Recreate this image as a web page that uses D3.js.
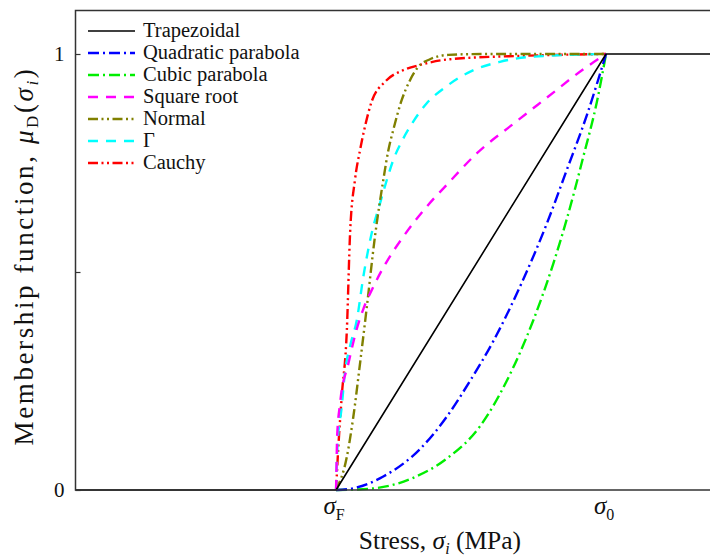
<!DOCTYPE html>
<html>
<head>
<meta charset="utf-8">
<script src="https://cdn.jsdelivr.net/npm/d3@7"></script>
<style>
  html, body { margin: 0; padding: 0; background: #fff; }
  svg { display: block; }
</style>
</head>
<body>
<svg id="chart" width="710" height="558"></svg>
<script>
// Normalised stress t = (σ - σF) / (σ0 - σF); membership value μD in [0, 1]
const seriesNames = ["Trapezoidal", "Quadratic parabola", "Cubic parabola", "Square root", "Normal", "Γ", "Cauchy"];

const trapezoidal = [[-0.965, 0], [0, 0], [1, 1], [1.39, 1]];
const quadratic = [[0, 0], [0.064, 0.004], [0.175, 0.031], [0.311, 0.094], [0.41, 0.168], [0.496, 0.25],
  [0.583, 0.342], [0.681, 0.466], [0.78, 0.61], [0.854, 0.733], [0.929, 0.86], [1, 1]];
const cubic = [[0, 0], [0.126, 0.003], [0.286, 0.028], [0.41, 0.072], [0.533, 0.146], [0.632, 0.25],
  [0.731, 0.39], [0.805, 0.52], [0.854, 0.62], [0.916, 0.765], [0.966, 0.89], [1, 1]];
const squareRoot = [[0, 0], [0.002, 0.062], [0.004, 0.122], [0.015, 0.199], [0.046, 0.291], [0.077, 0.37],
  [0.101, 0.415], [0.138, 0.466], [0.188, 0.524], [0.249, 0.581], [0.336, 0.65], [0.41, 0.7],
  [0.521, 0.772], [0.657, 0.84], [0.781, 0.9], [0.916, 0.965], [1, 1]];
const normal = [[0, 0], [0.04, 0.076], [0.064, 0.168], [0.089, 0.291], [0.114, 0.42], [0.144, 0.581],
  [0.175, 0.711], [0.194, 0.78], [0.212, 0.826], [0.243, 0.894], [0.274, 0.94], [0.305, 0.971],
  [0.348, 0.988], [0.416, 0.998], [0.55, 1], [1, 1]];
const gamma = [[0, 0], [0.005, 0.099], [0.021, 0.191], [0.033, 0.27], [0.052, 0.33], [0.077, 0.39],
  [0.101, 0.489], [0.132, 0.589], [0.163, 0.658], [0.188, 0.711], [0.212, 0.757], [0.243, 0.799],
  [0.286, 0.845], [0.336, 0.887], [0.407, 0.925], [0.509, 0.963], [0.607, 0.982], [0.731, 0.994], [1, 1]];
const cauchy = [[0, 0], [0.0085, 0.099], [0.021, 0.214], [0.04, 0.367], [0.052, 0.59], [0.07, 0.711],
  [0.089, 0.78], [0.107, 0.833], [0.132, 0.891], [0.181, 0.936], [0.249, 0.963], [0.311, 0.975],
  [0.422, 0.988], [0.7, 0.996], [1, 1]];

const yTicks = [0, 0.5, 1];
const yTickLabels = ["0", "", "1"];

const serif = '"Liberation Serif", "Times New Roman", Times, serif';

const series = [
  { name: seriesNames[0], data: trapezoidal, color: "#000000", dash: null, width: 1.6, curve: d3.curveLinear },
  { name: seriesNames[1], data: quadratic, color: "#0000ff", dash: "11,4,2,4", width: 2.4 },
  { name: seriesNames[2], data: cubic, color: "#00ee00", dash: "11,4,2,4", width: 2.4 },
  { name: seriesNames[3], data: squareRoot, color: "#ff00ff", dash: "10,8", width: 2.4 },
  { name: seriesNames[4], data: normal, color: "#808000", dash: "10,3.5,2,3.5,2,3.5", width: 2.4 },
  { name: seriesNames[5], data: gamma, color: "#00ffff", dash: "10,8", width: 2.4 },
  { name: seriesNames[6], data: cauchy, color: "#ff0000", dash: "10,3.5,2,3.5,2,3.5", width: 2.4 }
];

const svg = d3.select("#chart").style("font-family", serif);
const plot = { left: 75.5, right: 712, top: 10.5, bottom: 490 };

const x = d3.scaleLinear().domain([-0.965, 1.385]).range([75.5, 710]);
const y = d3.scaleLinear().domain([0, 1]).range([490, 54]);

svg.append("clipPath").attr("id", "plotClip")
  .append("rect").attr("x", plot.left).attr("y", plot.top)
  .attr("width", plot.right - plot.left).attr("height", plot.bottom - plot.top + 2);

const curves = svg.append("g").attr("clip-path", "url(#plotClip)");
series.slice().reverse().forEach(s => {
  const line = d3.line().x(d => x(d[0])).y(d => y(d[1])).curve(s.curve || d3.curveMonotoneX);
  curves.append("path")
    .datum(s.data)
    .attr("d", line)
    .attr("fill", "none")
    .attr("stroke", s.color)
    .attr("stroke-width", s.width)
    .attr("stroke-dasharray", s.dash)
    .attr("stroke-linejoin", "round");
});

// frame: left, top and bottom edges (right edge runs past the canvas)
svg.append("path")
  .attr("d", `M${plot.right},${plot.top}H${plot.left}V${plot.bottom}H${plot.right}`)
  .attr("fill", "none").attr("stroke", "#333").attr("stroke-width", 1.5);

// y axis with inward ticks
const yAxis = d3.axisLeft(y).tickValues(yTicks).tickSizeInner(-5).tickSizeOuter(0)
  .tickPadding(11).tickFormat((d, i) => yTickLabels[i]);
const gy = svg.append("g").attr("transform", `translate(${plot.left},0)`).call(yAxis);
gy.select(".domain").remove();
gy.attr("font-family", null).attr("font-size", null);
gy.selectAll(".tick line").attr("stroke", "#333").attr("stroke-width", 1.2);
gy.selectAll(".tick text").style("font-family", serif)
  .style("font-size", "21px").attr("fill", "#111");

// x tick labels σF and σ0
const xTicks = [{ t: 0, sub: "F" }, { t: 1, sub: "0" }];
xTicks.forEach(d => {
  const t = svg.append("text").attr("x", x(d.t) - 2).attr("y", 514)
    .attr("text-anchor", "middle").style("font-size", "25px").attr("fill", "#111");
  t.append("tspan").style("font-style", "italic").text("σ");
  t.append("tspan").attr("dy", 6).style("font-size", "16px").text(d.sub);
});

// axis titles
const xt = svg.append("text").attr("x", 440).attr("y", 549).attr("text-anchor", "middle")
  .style("font-size", "25.5px").attr("fill", "#111");
xt.append("tspan").text("Stress, ");
xt.append("tspan").style("font-style", "italic").text("σ");
xt.append("tspan").attr("dy", 5).style("font-size", "16px").style("font-style", "italic").text("i");
xt.append("tspan").attr("dy", -5).text(" (MPa)");

const yt = svg.append("text").attr("transform", "translate(33,256) rotate(-90)")
  .attr("text-anchor", "middle").style("font-size", "27px").style("letter-spacing", "2.6px")
  .attr("fill", "#111");
yt.append("tspan").text("Membership function, ");
yt.append("tspan").style("font-style", "italic").text("μ");
yt.append("tspan").attr("dy", 5).style("font-size", "17px").text("D");
yt.append("tspan").attr("dy", -5).text("(");
yt.append("tspan").style("font-style", "italic").text("σ");
yt.append("tspan").attr("dy", 5).style("font-size", "17px").style("font-style", "italic").text("i");
yt.append("tspan").attr("dy", -5).text(")");

// legend
const legend = svg.append("g");
series.forEach((s, i) => {
  const ly = 31 + i * 22;
  legend.append("line").attr("x1", 88).attr("x2", 135).attr("y1", ly).attr("y2", ly)
    .attr("stroke", s.color).attr("stroke-width", s.dash ? 2.4 : 1.6)
    .attr("stroke-dasharray", s.dash);
  legend.append("text").attr("x", 143).attr("y", ly + 6).style("font-size", "20.5px")
    .attr("fill", "#111").text(s.name);
});
</script>
</body>
</html>
